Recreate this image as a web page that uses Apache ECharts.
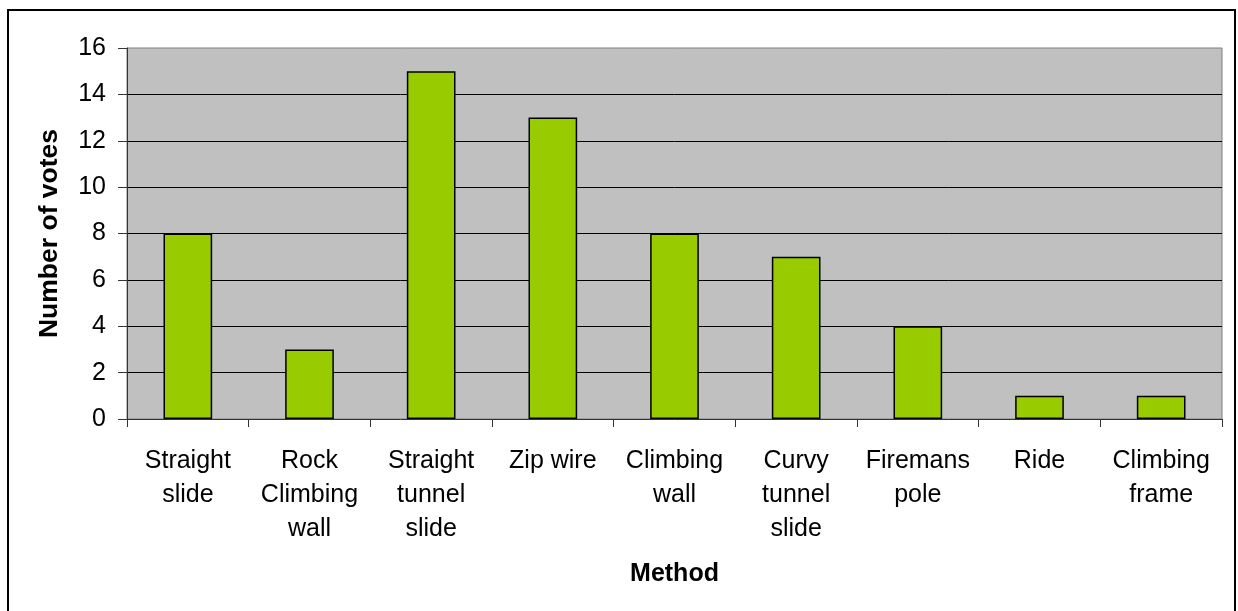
<!DOCTYPE html>
<html>
<head>
<meta charset="utf-8">
<script src="https://cdn.jsdelivr.net/npm/echarts@6/dist/echarts.min.js"></script>
<style>
html,body{margin:0;padding:0;background:#fff;}
#chart{width:1238px;height:611px;}
</style>
</head>
<body>
<div id="chart"></div>
<script>
const categories = ['Straight\nslide','Rock\nClimbing\nwall','Straight\ntunnel\nslide','Zip wire','Climbing\nwall','Curvy\ntunnel\nslide','Firemans\npole','Ride','Climbing\nframe'];
const votes = [8, 3, 15, 13, 8, 7, 4, 1, 1];
const yTicks = {min: 0, max: 16, interval: 2};
const xTitle = 'Method';
const yTitle = 'Number of votes';

const chart = echarts.init(document.getElementById('chart'));
const FONT = '"Liberation Sans", Arial, sans-serif';
chart.setOption({
  backgroundColor: '#ffffff',
  animation: false,
  graphic: [{
    type: 'rect',
    shape: {x: 8, y: 10, width: 1227, height: 700},
    style: {fill: 'none', stroke: '#000', lineWidth: 2},
    silent: true
  }],
  grid: {
    left: 127, right: 16, top: 48, bottom: 192,
    show: true, backgroundColor: '#C0C0C0', borderColor: '#808080', borderWidth: 1
  },
  xAxis: {
    type: 'category',
    data: categories,
    name: xTitle,
    nameLocation: 'middle',
    nameGap: 143,
    nameTextStyle: {fontFamily: FONT, fontSize: 25, fontWeight: 'bold', color: '#000'},
    axisLine: {show: true, lineStyle: {color: '#333', width: 1}},
    axisTick: {show: true, length: 8, lineStyle: {color: '#333'}},
    axisLabel: {
      interval: 0, margin: 25, fontFamily: FONT, fontSize: 25, color: '#000',
      lineHeight: 34, align: 'center'
    },
    splitLine: {show: false}
  },
  yAxis: {
    type: 'value',
    min: yTicks.min, max: yTicks.max, interval: yTicks.interval,
    name: yTitle,
    nameLocation: 'middle',
    nameGap: 64,
    nameTextStyle: {fontFamily: FONT, fontSize: 26.5, fontWeight: 'bold', color: '#000'},
    axisLine: {show: true, lineStyle: {color: '#333', width: 1}},
    axisTick: {show: true, length: 9, lineStyle: {color: '#333'}},
    axisLabel: {margin: 21, fontFamily: FONT, fontSize: 25, color: '#000'},
    splitLine: {show: true, showMinLine: false, showMaxLine: false, lineStyle: {color: '#000', width: 1}}
  },
  series: [{
    type: 'bar',
    data: votes,
    barWidth: '40%',
    itemStyle: {color: '#99CC00', borderColor: '#000', borderWidth: 1.5}
  }]
});
</script>
</body>
</html>
